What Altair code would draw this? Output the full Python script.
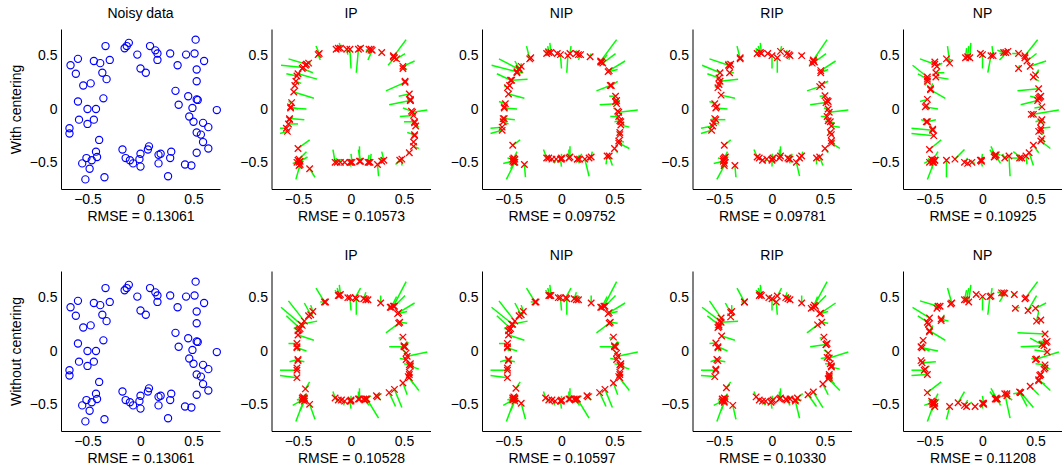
import altair as alt
import pandas as pd

# Noisy samples around a square outline (shared by every panel)
noisy_x = [-0.33, -0.66, -0.59, -0.61, -0.54, -0.44, -0.38, -0.29, -0.36, -0.32, -0.47, -0.59, -0.35, -0.50, -0.42,
           -0.58, -0.44, -0.50, -0.67, -0.67, -0.39,
           -0.42, -0.41, -0.46, -0.51, -0.55, -0.48, -0.52, -0.34,
           -0.15, -0.13, -0.11, -0.03, 0.00, 0.05, 0.09, 0.14, 0.16, 0.16, 0.28,
           0.35, 0.43, 0.51, 0.52, 0.60, 0.53, 0.53, 0.33, 0.45, 0.53, 0.54, 0.36, 0.49, 0.72, 0.46, 0.50, 0.59, 0.64,
           0.53, 0.57, 0.59, 0.64, 0.53, 0.42, 0.48,
           0.26, 0.19, 0.17, 0.17, 0.29, 0.28, 0.08, 0.07, 0.00, -0.01, 0.00, -0.07, -0.10, -0.14, -0.17]
noisy_y = [0.59, 0.41, 0.47, 0.33, 0.22, 0.45, 0.43, 0.46, 0.34, 0.28, 0.24, 0.07, 0.10, 0.00, 0.00,
           -0.10, -0.10, -0.14, -0.18, -0.23, -0.29,
           -0.40, -0.45, -0.48, -0.46, -0.51, -0.56, -0.66, -0.64,
           0.57, 0.59, 0.62, 0.51, 0.38, 0.34, 0.59, 0.55, 0.52, 0.46, 0.52,
           0.41, 0.51, 0.52, 0.65, 0.45, 0.37, 0.26, 0.17, 0.12, 0.09, 0.085, 0.04, 0.01, -0.01, -0.07, -0.12, -0.13, -0.17,
           -0.22, -0.24, -0.31, -0.37, -0.41, -0.52, -0.53,
           -0.63, -0.42, -0.43, -0.51, -0.40, -0.46, -0.35, -0.38, -0.42, -0.47, -0.54, -0.51, -0.48, -0.46, -0.38]

# Projected points (same order as the noisy samples), with centering
ip_with = [(-0.30, 0.52), (-0.45, 0.39), (-0.42, 0.42), (-0.51, 0.31), (-0.53, 0.22), (-0.43, 0.41), (-0.40, 0.43),
           (-0.31, 0.51), (-0.46, 0.38), (-0.50, 0.33), (-0.52, 0.26), (-0.56, 0.06), (-0.54, 0.16), (-0.57, 0.02),
           (-0.57, 0.01), (-0.58, -0.10), (-0.58, -0.09), (-0.59, -0.14), (-0.61, -0.18), (-0.60, -0.21), (-0.50, -0.37),
           (-0.49, -0.47), (-0.48, -0.49), (-0.49, -0.50), (-0.50, -0.48), (-0.51, -0.50), (-0.49, -0.53), (-0.48, -0.52),
           (-0.39, -0.56),
           (-0.14, 0.56), (-0.12, 0.57), (-0.10, 0.57), (-0.04, 0.56), (-0.01, 0.56), (0.07, 0.56), (0.09, 0.57),
           (0.17, 0.56), (0.19, 0.56), (0.20, 0.55), (0.29, 0.53),
           (0.41, 0.48), (0.40, 0.50), (0.43, 0.47), (0.40, 0.49), (0.49, 0.40), (0.49, 0.38), (0.51, 0.26),
           (0.51, 0.25), (0.55, 0.14), (0.56, 0.09), (0.56, 0.08), (0.56, 0.08), (0.57, -0.02), (0.58, -0.03),
           (0.59, -0.06), (0.60, -0.12), (0.60, -0.13), (0.61, -0.16), (0.60, -0.24), (0.60, -0.25), (0.59, -0.31),
           (0.59, -0.35), (0.55, -0.41), (0.46, -0.48), (0.48, -0.47),
           (0.25, -0.52), (0.18, -0.50), (0.16, -0.50), (0.17, -0.50), (0.31, -0.48), (0.29, -0.49), (0.08, -0.49),
           (0.09, -0.49), (0.01, -0.50), (0.00, -0.50), (-0.01, -0.50), (-0.06, -0.50), (-0.10, -0.50), (-0.13, -0.50),
           (-0.15, -0.50)]
nip_with = [(-0.30, 0.47), (-0.42, 0.35), (-0.40, 0.37), (-0.48, 0.27), (-0.51, 0.20), (-0.40, 0.38), (-0.38, 0.40),
            (-0.29, 0.48), (-0.42, 0.34), (-0.47, 0.27), (-0.49, 0.22), (-0.53, 0.05), (-0.50, 0.14), (-0.54, 0.02),
            (-0.54, 0.01), (-0.55, -0.09), (-0.54, -0.09), (-0.55, -0.12), (-0.56, -0.17), (-0.56, -0.20), (-0.46, -0.34),
            (-0.45, -0.46), (-0.44, -0.47), (-0.45, -0.48), (-0.46, -0.47), (-0.46, -0.49), (-0.45, -0.50), (-0.44, -0.50),
            (-0.35, -0.52),
            (-0.14, 0.52), (-0.12, 0.53), (-0.10, 0.53), (-0.04, 0.52), (-0.01, 0.51), (0.06, 0.50), (0.08, 0.52),
            (0.14, 0.52), (0.16, 0.51), (0.18, 0.51), (0.27, 0.49),
            (0.37, 0.44), (0.38, 0.44), (0.39, 0.43), (0.37, 0.45), (0.45, 0.36), (0.44, 0.35), (0.47, 0.22),
            (0.46, 0.22), (0.51, 0.12), (0.52, 0.08), (0.51, 0.07), (0.52, 0.05), (0.53, -0.02), (0.54, -0.03),
            (0.54, -0.07), (0.55, -0.11), (0.56, -0.12), (0.56, -0.15), (0.55, -0.22), (0.55, -0.24), (0.54, -0.30),
            (0.54, -0.32), (0.50, -0.37), (0.43, -0.44), (0.45, -0.44),
            (0.22, -0.47), (0.17, -0.47), (0.15, -0.47), (0.15, -0.47), (0.28, -0.45), (0.26, -0.46), (0.08, -0.45),
            (0.07, -0.46), (0.00, -0.46), (0.00, -0.47), (-0.01, -0.47), (-0.05, -0.47), (-0.09, -0.47), (-0.12, -0.46),
            (-0.14, -0.46)]
rip_with = [(-0.30, 0.47), (-0.49, 0.34), (-0.41, 0.41), (-0.50, 0.29), (-0.51, 0.20), (-0.40, 0.40), (-0.39, 0.42),
            (-0.30, 0.48), (-0.40, 0.34), (-0.49, 0.26), (-0.50, 0.23), (-0.54, 0.05), (-0.48, 0.13), (-0.52, 0.02),
            (-0.53, 0.01), (-0.54, -0.09), (-0.53, -0.10), (-0.55, -0.13), (-0.56, -0.16), (-0.57, -0.20), (-0.45, -0.34),
            (-0.45, -0.46), (-0.44, -0.45), (-0.45, -0.48), (-0.46, -0.47), (-0.46, -0.49), (-0.45, -0.51), (-0.45, -0.53),
            (-0.35, -0.53),
            (-0.14, 0.52), (-0.11, 0.53), (-0.10, 0.52), (-0.04, 0.52), (0.00, 0.50), (0.05, 0.48), (0.08, 0.54),
            (0.14, 0.52), (0.16, 0.51), (0.17, 0.50), (0.28, 0.50),
            (0.38, 0.43), (0.39, 0.45), (0.40, 0.44), (0.39, 0.46), (0.46, 0.36), (0.46, 0.34), (0.47, 0.23),
            (0.45, 0.21), (0.50, 0.125), (0.52, 0.08), (0.53, 0.07), (0.51, 0.06), (0.53, 0.00), (0.54, -0.03),
            (0.52, -0.07), (0.53, -0.11), (0.55, -0.12), (0.56, -0.16), (0.55, -0.22), (0.56, -0.24), (0.56, -0.30),
            (0.56, -0.32), (0.50, -0.37), (0.42, -0.46), (0.45, -0.45),
            (0.23, -0.50), (0.17, -0.47), (0.15, -0.46), (0.16, -0.47), (0.28, -0.44), (0.26, -0.46), (0.08, -0.44),
            (0.07, -0.46), (0.01, -0.46), (0.00, -0.47), (0.00, -0.48), (-0.05, -0.47), (-0.09, -0.48), (-0.12, -0.46),
            (-0.14, -0.45)]
np_with = [(-0.31, 0.43), (-0.52, 0.30), (-0.45, 0.42), (-0.52, 0.28), (-0.52, 0.26), (-0.45, 0.44), (-0.43, 0.40),
           (-0.34, 0.47), (-0.44, 0.34), (-0.44, 0.30), (-0.49, 0.19), (-0.52, 0.09), (-0.49, 0.18), (-0.53, 0.03),
           (-0.54, 0.02), (-0.53, -0.12), (-0.52, -0.12), (-0.47, -0.19), (-0.47, -0.20), (-0.46, -0.25), (-0.50, -0.38),
           (-0.47, -0.48), (-0.45, -0.48), (-0.47, -0.50), (-0.50, -0.50), (-0.48, -0.47), (-0.46, -0.50), (-0.45, -0.48),
           (-0.34, -0.48),
           (-0.16, 0.48), (-0.14, 0.49), (-0.12, 0.48), (-0.02, 0.52), (0.00, 0.51), (0.08, 0.50), (0.10, 0.50),
           (0.20, 0.53), (0.22, 0.53), (0.24, 0.54), (0.34, 0.52),
           (0.34, 0.38), (0.40, 0.48), (0.42, 0.45), (0.40, 0.50), (0.45, 0.40), (0.50, 0.32), (0.48, 0.30),
           (0.53, 0.19), (0.53, 0.10), (0.54, 0.11), (0.55, 0.12), (0.52, 0.08), (0.56, 0.02), (0.48, -0.05),
           (0.46, -0.05), (0.56, -0.10), (0.55, -0.12), (0.55, -0.18), (0.53, -0.21), (0.55, -0.20), (0.56, -0.28),
           (0.55, -0.30), (0.48, -0.34), (0.41, -0.44), (0.44, -0.41),
           (0.25, -0.44), (0.21, -0.46), (0.13, -0.43), (0.12, -0.43), (0.37, -0.46), (0.35, -0.46), (0.12, -0.44),
           (0.11, -0.45), (-0.01, -0.48), (-0.01, -0.49), (-0.02, -0.48), (-0.10, -0.50), (-0.14, -0.51), (-0.17, -0.50),
           (-0.26, -0.47)]

# Projected points without centering
ip_without = [(-0.25, 0.46), (-0.46, 0.24), (-0.44, 0.28), (-0.48, 0.21), (-0.50, 0.19), (-0.38, 0.34), (-0.36, 0.37),
              (-0.24, 0.46), (-0.40, 0.33), (-0.47, 0.25), (-0.49, 0.20), (-0.51, 0.07), (-0.50, 0.15), (-0.51, 0.04),
              (-0.51, 0.03), (-0.50, -0.08), (-0.50, -0.09), (-0.51, -0.16), (-0.51, -0.18), (-0.51, -0.25),
              (-0.43, -0.355),
              (-0.45, -0.43), (-0.44, -0.44), (-0.45, -0.45), (-0.46, -0.44), (-0.46, -0.46), (-0.44, -0.47),
              (-0.44, -0.45), (-0.39, -0.50),
              (-0.12, 0.52), (-0.11, 0.52), (-0.10, 0.53), (-0.03, 0.50), (-0.01, 0.50), (0.05, 0.49), (0.04, 0.50),
              (0.12, 0.49), (0.14, 0.48), (0.16, 0.48), (0.28, 0.45),
              (0.37, 0.41), (0.38, 0.41), (0.41, 0.42), (0.40, 0.42), (0.45, 0.36), (0.44, 0.35), (0.46, 0.27),
              (0.45, 0.26), (0.49, 0.13), (0.50, 0.05), (0.51, 0.04), (0.50, 0.04), (0.52, -0.02), (0.53, -0.05),
              (0.52, -0.08), (0.55, -0.13), (0.56, -0.12), (0.56, -0.14), (0.55, -0.22), (0.55, -0.20), (0.55, -0.25),
              (0.54, -0.24), (0.49, -0.30), (0.36, -0.39), (0.41, -0.36),
              (0.15, -0.45), (0.14, -0.45), (0.12, -0.45), (0.13, -0.46), (0.24, -0.42), (0.25, -0.43), (0.08, -0.45),
              (0.07, -0.45), (0.00, -0.46), (0.00, -0.47), (-0.01, -0.47), (-0.06, -0.47), (-0.09, -0.46),
              (-0.12, -0.46), (-0.15, -0.44)]
nip_without = [(-0.25, 0.46), (-0.46, 0.25), (-0.44, 0.28), (-0.48, 0.21), (-0.50, 0.19), (-0.38, 0.34), (-0.36, 0.37),
               (-0.24, 0.46), (-0.40, 0.33), (-0.47, 0.25), (-0.49, 0.20), (-0.51, 0.07), (-0.50, 0.15), (-0.51, 0.04),
               (-0.51, 0.03), (-0.50, -0.08), (-0.50, -0.09), (-0.51, -0.16), (-0.51, -0.18), (-0.51, -0.25),
               (-0.43, -0.35),
               (-0.45, -0.43), (-0.44, -0.44), (-0.45, -0.45), (-0.46, -0.44), (-0.46, -0.46), (-0.44, -0.47),
               (-0.44, -0.45), (-0.38, -0.49),
               (-0.12, 0.52), (-0.11, 0.52), (-0.10, 0.52), (-0.03, 0.50), (-0.01, 0.50), (0.05, 0.49), (0.04, 0.50),
               (0.12, 0.49), (0.14, 0.48), (0.16, 0.48), (0.28, 0.45),
               (0.37, 0.41), (0.38, 0.41), (0.41, 0.42), (0.40, 0.42), (0.45, 0.36), (0.44, 0.35), (0.46, 0.27),
               (0.45, 0.26), (0.49, 0.13), (0.50, 0.05), (0.51, 0.04), (0.50, 0.04), (0.52, -0.02), (0.53, -0.05),
               (0.52, -0.08), (0.55, -0.13), (0.56, -0.12), (0.56, -0.14), (0.55, -0.22), (0.55, -0.20), (0.55, -0.25),
               (0.54, -0.24), (0.49, -0.30), (0.36, -0.39), (0.41, -0.36),
               (0.15, -0.45), (0.14, -0.45), (0.12, -0.45), (0.13, -0.46), (0.24, -0.42), (0.25, -0.43), (0.08, -0.45),
               (0.07, -0.45), (0.00, -0.46), (0.00, -0.47), (-0.01, -0.47), (-0.06, -0.47), (-0.09, -0.46),
               (-0.12, -0.46), (-0.15, -0.44)]
rip_without = [(-0.26, 0.46), (-0.49, 0.28), (-0.48, 0.31), (-0.50, 0.245), (-0.51, 0.22), (-0.39, 0.36), (-0.38, 0.37),
               (-0.26, 0.46), (-0.39, 0.32), (-0.48, 0.27), (-0.50, 0.23), (-0.53, 0.075), (-0.475, 0.14),
               (-0.51, 0.03), (-0.51, 0.04), (-0.52, -0.08), (-0.51, -0.09), (-0.53, -0.17), (-0.53, -0.18),
               (-0.54, -0.24), (-0.43, -0.345),
               (-0.45, -0.44), (-0.44, -0.45), (-0.46, -0.46), (-0.47, -0.45), (-0.47, -0.47), (-0.45, -0.48),
               (-0.45, -0.47), (-0.37, -0.51),
               (-0.12, 0.52), (-0.11, 0.53), (-0.10, 0.52), (-0.03, 0.50), (0.00, 0.49), (0.04, 0.46), (0.05, 0.515),
               (0.13, 0.50), (0.15, 0.49), (0.17, 0.48), (0.28, 0.45),
               (0.37, 0.40), (0.39, 0.41), (0.41, 0.42), (0.40, 0.43), (0.46, 0.355), (0.45, 0.35), (0.47, 0.27),
               (0.43, 0.245), (0.49, 0.13), (0.52, 0.07), (0.51, 0.06), (0.51, 0.06), (0.53, -0.02), (0.54, -0.065),
               (0.52, -0.06), (0.55, -0.12), (0.56, -0.14), (0.56, -0.15), (0.54, -0.22), (0.54, -0.235), (0.54, -0.25),
               (0.53, -0.26), (0.48, -0.31), (0.34, -0.41), (0.39, -0.385),
               (0.22, -0.47), (0.17, -0.45), (0.13, -0.45), (0.14, -0.46), (0.24, -0.44), (0.22, -0.46), (0.08, -0.44),
               (0.07, -0.45), (0.01, -0.46), (0.00, -0.47), (-0.01, -0.48), (-0.06, -0.47), (-0.09, -0.47),
               (-0.12, -0.46), (-0.15, -0.43)]
np_without = [(-0.29, 0.45), (-0.50, 0.31), (-0.42, 0.42), (-0.52, 0.27), (-0.51, 0.25), (-0.43, 0.40), (-0.40, 0.42),
              (-0.30, 0.44), (-0.39, 0.285), (-0.39, 0.30), (-0.50, 0.18), (-0.56, 0.10), (-0.50, 0.19), (-0.58, 0.04),
              (-0.57, 0.03), (-0.58, -0.09), (-0.57, -0.11), (-0.54, -0.17), (-0.55, -0.18), (-0.52, -0.22),
              (-0.52, -0.39),
              (-0.46, -0.48), (-0.45, -0.49), (-0.47, -0.50), (-0.48, -0.47), (-0.47, -0.48), (-0.45, -0.52),
              (-0.46, -0.50), (-0.31, -0.52),
              (-0.17, 0.48), (-0.15, 0.48), (-0.13, 0.46), (-0.06, 0.53), (0.00, 0.51), (0.07, 0.51), (0.08, 0.515),
              (0.18, 0.545), (0.20, 0.545), (0.21, 0.54), (0.30, 0.53),
              (0.31, 0.40), (0.41, 0.50), (0.43, 0.38), (0.40, 0.49), (0.50, 0.40), (0.51, 0.28), (0.55, 0.29),
              (0.59, 0.16), (0.56, 0.06), (0.61, 0.09), (0.60, 0.08), (0.58, 0.05), (0.61, -0.01), (0.51, -0.075),
              (0.50, -0.08), (0.59, -0.13), (0.58, -0.17), (0.59, -0.16), (0.54, -0.23), (0.55, -0.22), (0.53, -0.28),
              (0.53, -0.27), (0.45, -0.33), (0.35, -0.385), (0.36, -0.39),
              (0.21, -0.40), (0.23, -0.40), (0.13, -0.45), (0.14, -0.45), (0.36, -0.39), (0.23, -0.42), (0.13, -0.44),
              (0.12, -0.45), (0.01, -0.49), (0.01, -0.50), (0.00, -0.49), (-0.07, -0.52), (-0.15, -0.52),
              (-0.17, -0.51), (-0.23, -0.485)]

rmse_with = ["0.13061", "0.10573", "0.09752", "0.09781", "0.10925"]
rmse_without = ["0.13061", "0.10528", "0.10597", "0.10330", "0.11208"]
methods = ["IP", "NIP", "RIP", "NP"]

FONT = "Liberation Sans"
W, H = 159, 160
DOMAIN = [-0.75, 0.75]
TICKS = [-0.5, 0, 0.5]
X_SHAPE = "M-1,-1L1,1M-1,1L1,-1"


def scale():
    return alt.Scale(domain=DOMAIN, nice=False, zero=False)


def x_enc(field, rmse):
    return alt.X(field, type="quantitative", scale=scale(),
                 axis=alt.Axis(values=TICKS, format=".1~f", title="RMSE = " + rmse))


def y_enc(field, label):
    if label:
        axis = alt.Axis(values=TICKS, format=".1~f", title=label,
                        titleX=-45, titleY=H / 2, titleAngle=270, titleAlign="center", titleBaseline="middle")
    else:
        axis = alt.Axis(values=TICKS, format=".1~f", title=None)
    return alt.Y(field, type="quantitative", scale=scale(), axis=axis)


def title(text):
    return alt.TitleParams(text, font=FONT, fontSize=14, fontWeight="normal", color="black", offset=8)


def noisy_panel(rmse, label, heading=None):
    df = pd.DataFrame({"nx": noisy_x, "ny": noisy_y})
    chart = alt.Chart(df).mark_point(
        shape="circle", filled=False, color="#0000ff", size=52, strokeWidth=1.15, opacity=1
    ).encode(x=x_enc("nx", rmse), y=y_enc("ny", label)).properties(width=W, height=H)
    if heading:
        chart = chart.properties(title=title(heading))
    return chart


def method_panel(proj, name, rmse):
    df = pd.DataFrame({
        "nx": noisy_x, "ny": noisy_y,
        "px": [p[0] for p in proj], "py": [p[1] for p in proj],
    })
    base = alt.Chart(df)
    links = base.mark_rule(color="#00ff00", strokeWidth=1.5).encode(
        x=x_enc("nx", rmse), y=y_enc("ny", None), x2="px", y2="py")
    marks = base.mark_point(
        shape=X_SHAPE, filled=False, color="#ff0000", size=42, strokeWidth=1.3, opacity=1
    ).encode(x=x_enc("px", rmse), y=y_enc("py", None))
    return alt.layer(links, marks).properties(width=W, height=H, title=title(name))


panels = [noisy_panel(rmse_with[0], "With centering", "Noisy data")]
panels += [method_panel(p, m, r) for p, m, r in
           zip([ip_with, nip_with, rip_with, np_with], methods, rmse_with[1:])]
panels += [noisy_panel(rmse_without[0], "Without centering")]
panels += [method_panel(p, m, r) for p, m, r in
           zip([ip_without, nip_without, rip_without, np_without], methods, rmse_without[1:])]

chart = alt.concat(
    *panels, columns=5, spacing=alt.RowColnumber(row=82, column=51.5), bounds="flush"
).properties(
    padding={"left": 9, "top": 7, "right": 0, "bottom": 0},
    background="white",
).configure_axis(
    labelFont=FONT, labelFontSize=14, labelColor="black",
    titleFont=FONT, titleFontSize=14, titleFontWeight="normal", titleColor="black",
    domainColor="black", domainWidth=1, ticks=False, grid=False,
).configure_axisX(labelPadding=3, titlePadding=3).configure_axisY(labelPadding=4).configure_view(stroke=None)

chart.save("out.html", embed_options={"renderer": "svg", "actions": False})
